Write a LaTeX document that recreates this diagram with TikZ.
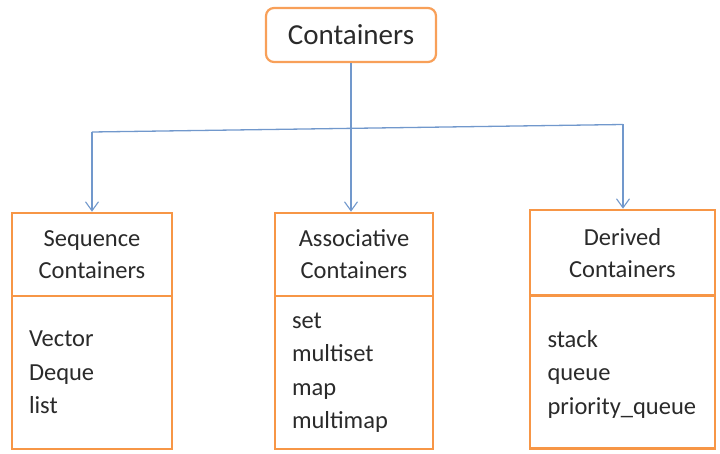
\documentclass[tikz,border=0pt]{standalone}
\usepackage{fontspec}
\setmainfont{Carlito}
\usetikzlibrary{arrows.meta}
\definecolor{boxorange}{HTML}{F79646}
\definecolor{lineblue}{HTML}{7198CC}
\definecolor{txt}{HTML}{2A2A2A}
\tikzset{
  topbox/.style={draw=boxorange!90, line width=2.2pt, rounded corners=8pt, fill=white,
    minimum width=170pt, minimum height=54pt, text=txt, font=\fontsize{29}{33}\selectfont, inner sep=0pt},
  headbox/.style={draw=boxorange, line width=2.6pt, fill=white, text=txt, align=center,
    font=\fontsize{24.5}{32}\selectfont, inner sep=0pt, minimum height=83pt},
  bodybox/.style={draw=boxorange, line width=2.6pt, fill=white, text=txt, align=left,
    font=\fontsize{24.5}{33.5}\selectfont, inner xsep=17pt, inner ysep=0pt, minimum height=153pt},
  linkline/.style={draw=lineblue, line width=1.3pt},
  conn/.style={linkline, -{Straight Barb[length=9pt,width=13pt,line width=1.1pt]}}
}
\begin{document}
\begin{tikzpicture}[x=1pt,y=-1pt]
\useasboundingbox (0,0) rectangle (720,454);
% top
\node[topbox] (top) at (351,35) {Containers};
% sequence
\node[headbox, minimum width=160pt] (seqh) at (92,254.5) {Sequence\\Containers};
\node[bodybox, minimum width=160pt, text width=126pt] (seqb) at (92,372.5) {Vector\\Deque\\list};
% associative
\node[headbox, minimum width=158pt] (assh) at (354,254.5) {Associative\\Containers};
\node[bodybox, minimum width=158pt, text width=124pt] (assb) at (354,372.5) {set\\multiset\\map\\multimap};
% derived
\node[headbox, minimum width=185pt, minimum height=86pt] (derh) at (622.5,253) {Derived\\Containers};
\node[bodybox, minimum width=185pt, text width=150pt] (derb) at (622.5,372) {\\[-12pt]stack\\queue\\priority\_queue};
% connectors
\coordinate (jl) at (92,132);
\coordinate (jr) at (623,124.5);
\draw[linkline] (jl) -- (jr);
\draw[conn] (top.south) -- (top.south |- assh.north);
\draw[conn] (jl) -- (jl |- seqh.north);
\draw[conn] (jr) -- (jr |- derh.north);
\end{tikzpicture}
\end{document}
